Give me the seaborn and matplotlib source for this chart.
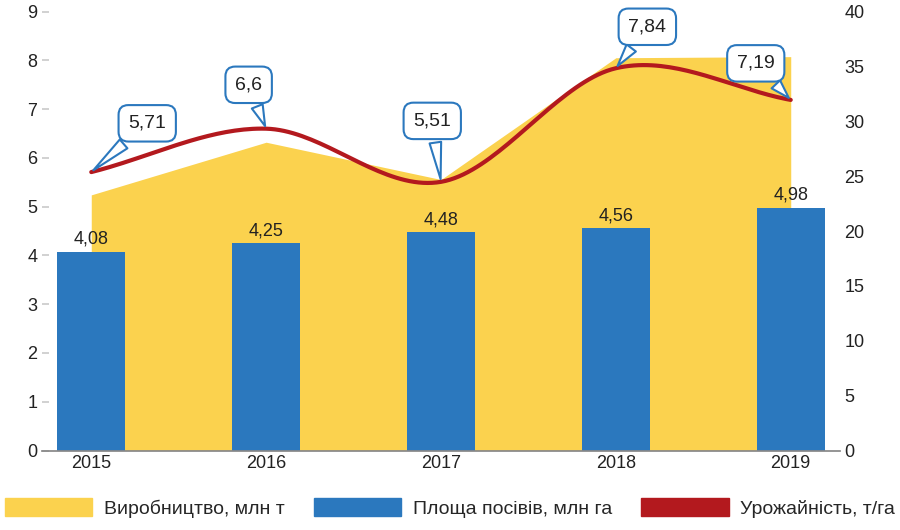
import numpy as np
import pandas as pd
import matplotlib
matplotlib.use("Agg")
import matplotlib.pyplot as plt
import seaborn as sns
from matplotlib.patches import Patch

years = [2015, 2016, 2017, 2018, 2019]
area = [4.08, 4.25, 4.48, 4.56, 4.98]           # Площа посівів, млн га
production = [23.3, 28.1, 24.7, 35.8, 35.9]      # Виробництво, млн т
yield_ = [5.71, 6.6, 5.51, 7.84, 7.19]          # Урожайність, т/га
area_labels = ["4,08", "4,25", "4,48", "4,56", "4,98"]
yield_labels = ["5,71", "6,6", "5,51", "7,84", "7,19"]

sns.set_theme(style="white")
plt.rcParams['font.family'] = ['Liberation Sans', 'DejaVu Sans']

fig = plt.figure(figsize=(9, 5.3), dpi=100)
ax = fig.add_axes([0.047, 0.15, 0.886, 0.828])
ax2 = ax.twinx()
ax.set_zorder(ax2.get_zorder() + 1)
ax.patch.set_visible(False)

x = np.arange(len(years))
ax2.fill_between(x, 0, production, color="#fbd24e", lw=0)
ax2.set_ylim(0, 40)
ax2.set_yticks(range(0, 41, 5))

ax.bar(x, area, width=0.39, color="#2b78be", edgecolor="none")
for xi, v, l in zip(x, area, area_labels):
    ax.text(xi, v + 0.08, l, ha="center", va="bottom", fontsize=13, color="#222")

def smooth(xs, ys, n=40):
    xs = np.asarray(xs, float); ys = np.asarray(ys, float)
    P = np.vstack([xs, ys]).T
    P = np.vstack([2*P[0]-P[1], P, 2*P[-1]-P[-2]])
    out = []
    for i in range(1, len(P)-2):
        p0, p1, p2, p3 = P[i-1], P[i], P[i+1], P[i+2]
        t = np.linspace(0, 1, n)[:, None]
        out.append(0.5*((2*p1) + (-p0+p2)*t + (2*p0-5*p1+4*p2-p3)*t**2 + (-p0+3*p1-3*p2+p3)*t**3))
    o = np.vstack(out)
    return o[:, 0], o[:, 1]

sx, sy = smooth(x, yield_)
sns.lineplot(x=sx, y=sy, ax=ax, color="#b3191e", lw=3, sort=False)

offsets = [(0.32, 1.0), (-0.1, 0.9), (-0.05, 1.25), (0.18, 0.85), (-0.2, 0.75)]
for xi, v, l, (dx, dy) in zip(x, yield_, yield_labels, offsets):
    ax.annotate(l, xy=(xi, v), xytext=(xi + dx, v + dy), ha="center", va="center",
                fontsize=14, color="#222",
                bbox=dict(boxstyle="round,pad=0.5", fc="white", ec="#2b78be", lw=1.5),
                arrowprops=dict(arrowstyle="wedge,tail_width=0.6", fc="white", ec="#2b78be", lw=1.5))

ax.set_ylim(0, 9)
ax.set_xlim(-0.28, 4.28)
ax.set_yticks(range(10))
ax.set_xticks(x)
ax.set_xticklabels([str(y) for y in years])
for a in (ax, ax2):
    a.tick_params(labelsize=13, colors="#222", length=0)
    for s in a.spines.values():
        s.set_visible(False)
ax.spines["bottom"].set_visible(True)
ax.spines["bottom"].set_color("#888")
ax.tick_params(axis="y", left=True, length=5, color="#ccc", direction="in")

handles = [Patch(color="#fbd24e", label="Виробництво, млн т"),
           Patch(color="#2b78be", label="Площа посівів, млн га"),
           Patch(color="#b3191e", label="Урожайність, т/га")]
fig.legend(handles=handles, loc="lower center", ncol=3, frameon=False, fontsize=14,
           bbox_to_anchor=(0.5, -0.01), handlelength=4.5, handleheight=1.0,
           columnspacing=1.5, handletextpad=0.6)
fig.savefig("out.png", dpi=100)
